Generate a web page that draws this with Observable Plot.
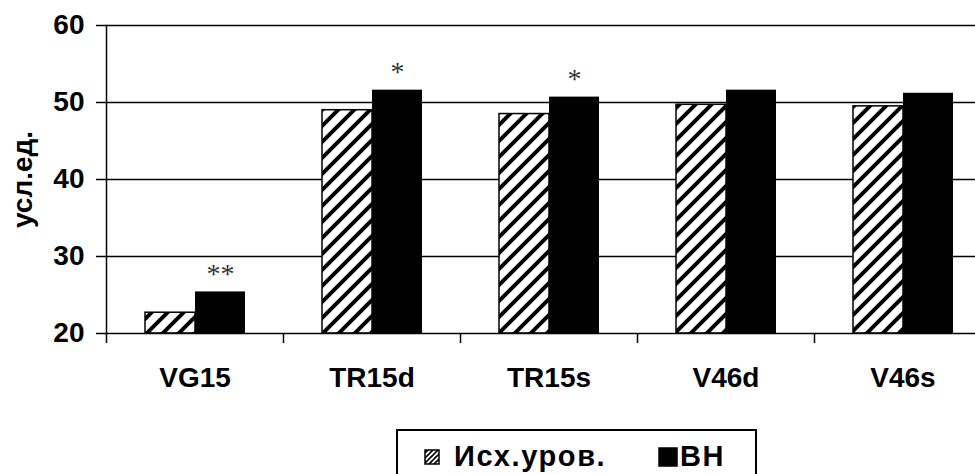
<!DOCTYPE html>
<html>
<head>
<meta charset="utf-8">
<script src="https://cdn.jsdelivr.net/npm/d3@7"></script>
<script src="https://cdn.jsdelivr.net/npm/@observablehq/plot@0.6"></script>
<style>
  html, body { margin: 0; padding: 0; background: #fff; overflow: hidden; }
  #wrap { position: relative; width: 975px; height: 474px; }
  #legend {
    position: absolute; left: 396px; top: 429px; width: 361px; height: 70px;
    border: 2px solid #000; box-sizing: border-box;
    font-family: "Liberation Sans", Arial, sans-serif; font-size: 29px; font-weight: bold; letter-spacing: 1.6px;
  }
  #legend .item { position: absolute; top: 9px; display: flex; align-items: center; white-space: nowrap; }
  #legend svg { display: block; }
</style>
</head>
<body>
<div id="wrap">
  <div id="chart"></div>
  <div id="legend"></div>
</div>
<script>
const categories = ["VG15", "TR15d", "TR15s", "V46d", "V46s"];
const seriesNames = ["Исх.уров.", "ВН"];
const initialLevel = [22.7, 49.0, 48.5, 49.7, 49.5];
const vnLevel = [25.4, 51.6, 50.7, 51.6, 51.2];
const significance = ["**", "*", "*", "", ""];
const yTicks = [20, 30, 40, 50, 60];
const gridValues = [30, 40, 50, 60];
const yLabel = "усл.ед.";

const data = categories.map((c, i) => ({c, base: initialLevel[i], vn: vnLevel[i], sig: significance[i]}));

const chart = Plot.plot({
  width: 975,
  height: 425,
  marginLeft: 106,
  marginTop: 25,
  marginBottom: 92,
  marginRight: 0,
  x: {domain: categories, range: [106, 991], padding: 0, label: null},
  y: {domain: [20, 60], label: null},
  style: {fontFamily: "'Liberation Sans', Arial, sans-serif", fontSize: "28px", fontWeight: "bold", background: "#fff", color: "#000"},
  marks: [
    Plot.ruleY(gridValues, {stroke: "#000", strokeWidth: 1.5}),
    Plot.barY(data, {x: "c", y1: 20, y2: "base", fill: "url(#hatch)", stroke: "#000", strokeWidth: 1.5, insetLeft: 39, insetRight: 88}),
    Plot.barY(data, {x: "c", y1: 20, y2: "vn", fill: "#000", insetLeft: 89, insetRight: 38}),
    Plot.text(data, {x: "c", y: "vn", text: "sig", dx: 25.5, dy: -18, fontFamily: "'Liberation Serif', serif", fontWeight: "normal", fontSize: 28, fill: "#333"}),
    Plot.ruleY([20], {stroke: "#000", strokeWidth: 1.5}),
    Plot.frame({anchor: "left", stroke: "#000", strokeWidth: 1.5}),
    Plot.axisY({ticks: yTicks, tickSize: 10, tickPadding: 12, strokeWidth: 1.5, label: yLabel, labelAnchor: "center", labelArrow: false, labelOffset: 94}),
    Plot.axisX({tickSize: 10, tickFormat: () => "", dx: -88.5, strokeWidth: 1.5, label: null}),
    Plot.axisX({tickSize: 0, tickPadding: 34, label: null})
  ]
});

const svg = d3.select(chart);
const defs = svg.insert("defs", ":first-child");
const pat = defs.append("pattern").attr("id", "hatch").attr("patternUnits", "userSpaceOnUse")
  .attr("width", 16).attr("height", 16);
pat.append("rect").attr("width", 16).attr("height", 16).attr("fill", "#fff");
pat.append("path").attr("d", "M-4,4 L4,-4 M0,16 L16,0 M12,20 L20,12").attr("stroke", "#000").attr("stroke-width", 4);
document.getElementById("chart").appendChild(chart);

// legend
const legend = document.getElementById("legend");
function addItem(left, name, hatched) {
  const item = document.createElement("div");
  item.className = "item";
  item.style.left = left + "px";
  const ns = "http://www.w3.org/2000/svg";
  const s = document.createElementNS(ns, "svg");
  const size = hatched ? 16 : 20;
  s.setAttribute("width", size); s.setAttribute("height", size);
  s.style.marginRight = hatched ? "14px" : "2px";
  if (hatched) {
    const d = document.createElementNS(ns, "defs");
    d.innerHTML = '<pattern id="hatchL" patternUnits="userSpaceOnUse" width="5" height="5"><rect width="5" height="5" fill="#fff"/><path d="M-1,1 L1,-1 M0,5 L5,0 M4,6 L6,4" stroke="#000" stroke-width="1.6"/></pattern>';
    s.appendChild(d);
  }
  const r = document.createElementNS(ns, "rect");
  r.setAttribute("x", 1); r.setAttribute("y", 1); r.setAttribute("width", size - 2); r.setAttribute("height", size - 2);
  r.setAttribute("fill", hatched ? "url(#hatchL)" : "#000");
  r.setAttribute("stroke", "#000"); r.setAttribute("stroke-width", 1.5);
  s.appendChild(r);
  item.appendChild(s);
  const t = document.createElement("span");
  t.textContent = name;
  item.appendChild(t);
  legend.appendChild(item);
}
addItem(26, seriesNames[0], true);
addItem(260, seriesNames[1], false);
</script>
</body>
</html>
